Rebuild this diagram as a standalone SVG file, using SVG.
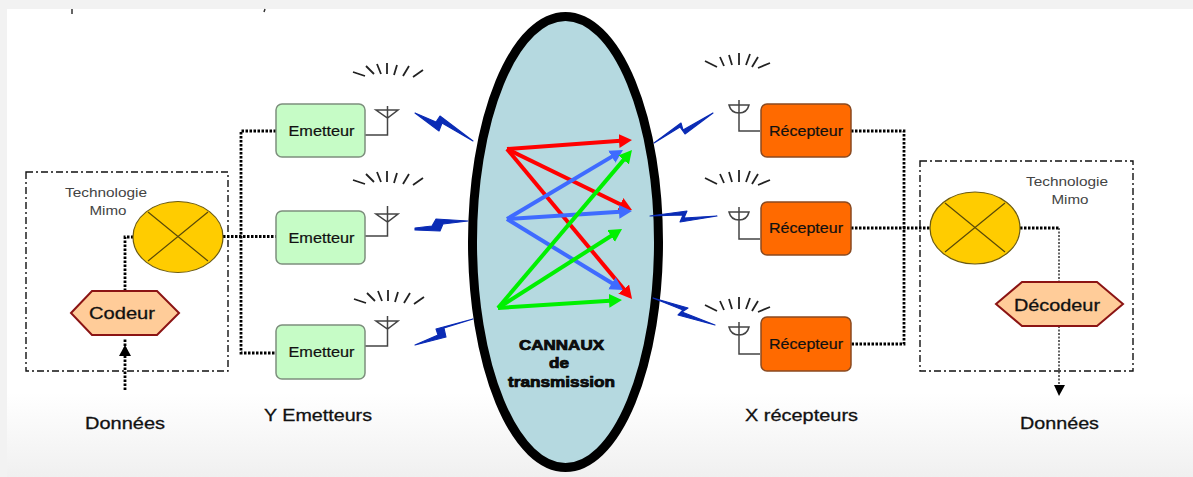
<svg xmlns="http://www.w3.org/2000/svg" xmlns:xlink="http://www.w3.org/1999/xlink" width="1193" height="477" viewBox="0 0 1193 477">
<style>
text{font-family:"Liberation Sans",Arial,sans-serif;fill:#111;text-anchor:middle}
.tx{fill:#c6fcc6;stroke:#7d8f7d;stroke-width:1.5}
.rx{fill:#ff6a00;stroke:#8a4a20;stroke-width:1.5}
.hex{fill:#ffcc99;stroke:#8b1414;stroke-width:2}
.mix{fill:#ffcc00;stroke:#6b5a10;stroke-width:1.2}
.mixl{stroke:#5a4a08;stroke-width:1.2;fill:none}
.ant{fill:none;stroke:#444;stroke-width:1.5}
.tick{fill:none;stroke:#222;stroke-width:1.8}
.bolt{fill:#0a2bb5;stroke:#0a2bb5;stroke-width:1.1;stroke-linejoin:round}
.frame{fill:none;stroke:#111;stroke-width:1.4;stroke-dasharray:7 3 2 3}
.dot{fill:none;stroke:#000;stroke-width:2.8;stroke-dasharray:2.5 1.5}
.dot2{fill:none;stroke:#333;stroke-width:1.5;stroke-dasharray:2 1.5}
.r{stroke:#ff0000;stroke-width:4;fill:none}
.b{stroke:#3f6bff;stroke-width:4;fill:none}
.g{stroke:#00f000;stroke-width:4;fill:none}
.lbl{font-size:17px;stroke:#111;stroke-width:.3}
.small{font-size:14px;stroke:#111;stroke-width:.2}
.tech{font-size:13px;fill:#444}
.chan{font-size:14px;font-weight:bold;stroke:#000;stroke-width:.7}
</style>
<defs>
<linearGradient id="bg" x1="0" y1="0" x2="0" y2="1"><stop offset="0.82" stop-color="#fff"/><stop offset="1" stop-color="#f0f0f0"/></linearGradient>
<marker id="mr" markerUnits="userSpaceOnUse" markerWidth="18" markerHeight="16" refX="5" refY="7" orient="auto"><path d="M0 0L13 7L0 14Z" fill="#ff0000"/></marker>
<marker id="mb" markerUnits="userSpaceOnUse" markerWidth="18" markerHeight="16" refX="5" refY="7" orient="auto"><path d="M0 0L13 7L0 14Z" fill="#3f6bff"/></marker>
<marker id="mg" markerUnits="userSpaceOnUse" markerWidth="18" markerHeight="16" refX="5" refY="7" orient="auto"><path d="M0 0L13 7L0 14Z" fill="#00f000"/></marker>
<g id="txTicks" class="tick"><path d="M353 72L365 76M366 66L374 74M377 64L381 74M387 63V74M397 65L394 75M409 66L403 76M423 70L413 77"/></g>
<g id="rxTicks" class="tick"><path d="M705 61L717 67M720 57L724 66M729 55L732 65M739 53V65M750 54L746 65M758 57L752 67M770 63L758 68"/></g>
</defs>
<rect width="1193" height="477" fill="#f2f2f2"/>
<rect x="7" y="9" width="1186" height="468" fill="url(#bg)"/>
<path d="M72 9V14M265 9L264 12" stroke="#333" stroke-width="1.500" fill="none"/>

<g id="frames">
<rect class="frame" x="26" y="172" width="202" height="199"/>
<rect class="frame" x="920" y="161" width="213" height="210"/>
</g>

<g id="connectors">
<path class="dot" d="M125 291V237H133"/>
<path class="dot" d="M223 236.500H276"/>
<path class="dot" d="M276 131H241V353H276"/>
<path class="dot" d="M125 390V338"/>
<path d="M125 345L131 356H119Z" fill="#000"/>
<path class="dot" d="M851 131H904V344H851"/>
<path class="dot" d="M851 228H930"/>
<path class="dot" d="M1020 228H1059"/>
<path class="dot2" d="M1059 228V282"/>
<path class="dot2" d="M1059 326V386"/>
<path d="M1059 396L1065 385H1054Z" fill="#000"/>
</g>

<g id="channel">
<ellipse cx="565.500" cy="242" rx="93" ry="225.500" fill="#b5d9e0" stroke="#000" stroke-width="9"/>
<path class="r" marker-end="url(#mr)" d="M507 149L624 140.600"/>
<path class="r" marker-end="url(#mr)" d="M507 149L624.800 206.500"/>
<path class="r" marker-end="url(#mr)" d="M507 149L626.900 292.900"/>
<path class="b" marker-end="url(#mb)" d="M507 219L616.100 154.100"/>
<path class="b" marker-end="url(#mb)" d="M507 219L624 211.500"/>
<path class="b" marker-end="url(#mb)" d="M507 219L616.200 285.800"/>
<path class="g" marker-end="url(#mg)" d="M498 308L626.800 156.100"/>
<path class="g" marker-end="url(#mg)" d="M498 308L615.300 233.300"/>
<path class="g" marker-end="url(#mg)" d="M498 308L614 300.500"/>
<text class="chan" x="561.500" y="350" textLength="85" lengthAdjust="spacingAndGlyphs">CANNAUX</text>
<text class="chan" x="559" y="368" textLength="20" lengthAdjust="spacingAndGlyphs">de</text>
<text class="chan" x="561.500" y="387" textLength="107" lengthAdjust="spacingAndGlyphs">transmission</text>
</g>

<g id="bolts">
<path class="bolt" d="M415 113L436 122L440 116L473 141L442 123L439 131Z"/>
<path class="bolt" d="M415 228L432 226L436 219L468 221L443 224L440 231L415 230Z"/>
<path class="bolt" d="M415 345L438 335L436 329L473 319L444 328L446 337Z"/>
<path class="bolt" d="M654 143L681 123L683 130L713 113L685 134L680 127Z"/>
<path class="bolt" d="M650 216L687 211L684 218L717 216L680 222L683 215Z"/>
<path class="bolt" d="M653 298L688 308L682 312L715 325L678 315L683 310Z"/>
</g>

<g id="emetteur1">
<use xlink:href="#txTicks" href="#txTicks"/>
<path class="ant" d="M365 135H387.500V106M376 110H398L387.500 118Z"/>
<rect class="tx" x="276" y="104" width="89" height="53" rx="6"/>
<text class="small" x="321.500" y="136" textLength="66" lengthAdjust="spacingAndGlyphs">Emetteur</text>
</g>
<g id="emetteur2">
<use xlink:href="#txTicks" href="#txTicks" y="108"/>
<path class="ant" d="M365 236H387.500V206M376 214H398L387.500 222Z"/>
<rect class="tx" x="276" y="211" width="89" height="53" rx="6"/>
<text class="small" x="321.500" y="243" textLength="66" lengthAdjust="spacingAndGlyphs">Emetteur</text>
</g>
<g id="emetteur3">
<use xlink:href="#txTicks" href="#txTicks" x="1" y="227"/>
<path class="ant" d="M365 346H387.500V316M376 321H398L387.500 329Z"/>
<rect class="tx" x="276" y="325" width="89" height="54" rx="6"/>
<text class="small" x="321.500" y="357" textLength="66" lengthAdjust="spacingAndGlyphs">Emetteur</text>
</g>

<g id="recepteur1">
<use xlink:href="#rxTicks" href="#rxTicks"/>
<path class="ant" d="M760 131H739V100M729 105H749Q747 113 739 113Q731 113 729 105Z"/>
<rect class="rx" x="761" y="104" width="90" height="53" rx="6"/>
<text class="small" x="806" y="136" textLength="74" lengthAdjust="spacingAndGlyphs">Récepteur</text>
</g>
<g id="recepteur2">
<use xlink:href="#rxTicks" href="#rxTicks" y="117"/>
<path class="ant" d="M760 239H739V207M729 212H749Q747 220 739 220Q731 220 729 212Z"/>
<rect class="rx" x="761" y="202" width="90" height="53" rx="6"/>
<text class="small" x="806" y="233" textLength="74" lengthAdjust="spacingAndGlyphs">Récepteur</text>
</g>
<g id="recepteur3">
<use xlink:href="#rxTicks" href="#rxTicks" y="244"/>
<path class="ant" d="M760 354H739V322M729 327H749Q747 335 739 335Q731 335 729 327Z"/>
<rect class="rx" x="761" y="317" width="90" height="54" rx="6"/>
<text class="small" x="806" y="349" textLength="74" lengthAdjust="spacingAndGlyphs">Récepteur</text>
</g>

<g id="mimoGauche">
<text class="tech" x="106" y="197" textLength="82" lengthAdjust="spacingAndGlyphs">Technologie</text>
<text class="tech" x="108" y="215" textLength="37" lengthAdjust="spacingAndGlyphs">Mimo</text>
<ellipse class="mix" cx="178" cy="237" rx="45" ry="35.500"/>
<path class="mixl" d="M148 212L208 261M208 212L148 261"/>
</g>
<g id="mimoDroite">
<text class="tech" x="1067" y="186" textLength="82" lengthAdjust="spacingAndGlyphs">Technologie</text>
<text class="tech" x="1070" y="204" textLength="37" lengthAdjust="spacingAndGlyphs">Mimo</text>
<ellipse class="mix" cx="975" cy="228" rx="45" ry="36"/>
<path class="mixl" d="M945 203L1005 252M1005 203L945 252"/>
</g>

<g id="codeur">
<path class="hex" d="M71 313L92 291H157L179 313L157 335H92Z"/>
<text class="lbl" x="122" y="319" textLength="66" lengthAdjust="spacingAndGlyphs">Codeur</text>
</g>
<g id="decodeur">
<path class="hex" d="M996 304L1022 282H1097L1123 304L1097 326H1022Z"/>
<text class="lbl" x="1057" y="311" textLength="86" lengthAdjust="spacingAndGlyphs">Décodeur</text>
</g>

<g id="labels">
<text class="lbl" x="125" y="429" textLength="80" lengthAdjust="spacingAndGlyphs">Données</text>
<text class="lbl" x="318" y="421" textLength="108" lengthAdjust="spacingAndGlyphs">Y Emetteurs</text>
<text class="lbl" x="801.500" y="421" textLength="113" lengthAdjust="spacingAndGlyphs">X récepteurs</text>
<text class="lbl" x="1059.500" y="429" textLength="79" lengthAdjust="spacingAndGlyphs">Données</text>
</g>
</svg>
